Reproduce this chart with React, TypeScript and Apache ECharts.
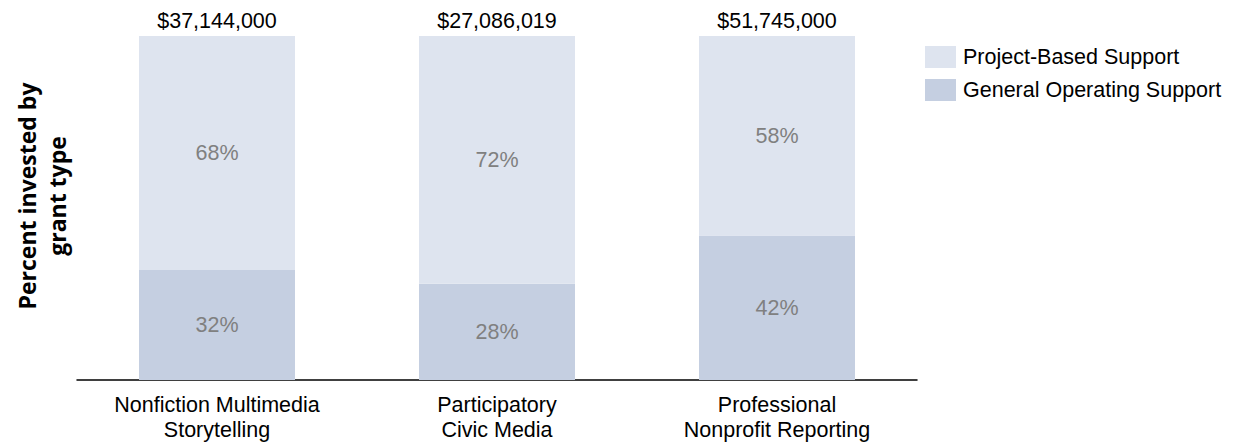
import React, { useEffect, useRef } from "react";
import * as echarts from "echarts";

const categories = ["Nonfiction Multimedia\nStorytelling", "Participatory\nCivic Media", "Professional\nNonprofit Reporting"];
const generalOperating = [32, 28, 42];
const projectBased = [68, 72, 58];
const totals = ["$37,144,000", "$27,086,019", "$51,745,000"];

const FONT = "Liberation Sans, Arial, sans-serif";

export default function App() {
  const ref = useRef<HTMLDivElement>(null);
  useEffect(() => {
    const chart = echarts.init(ref.current!, null, { renderer: "svg" });
    chart.setOption({
      animation: false,
      grid: { left: 77, right: 317, top: 36, bottom: 63 },
      legend: {
        left: 925,
        top: 46,
        padding: 0,
        orient: "vertical",
        itemWidth: 31,
        itemHeight: 22,
        itemGap: 11,
        icon: "rect",
        data: ["Project-Based Support", "General Operating Support"],
        textStyle: { fontFamily: FONT, fontSize: 21.5, color: "#000", padding: [0, 0, 0, 2] },
      },
      xAxis: {
        type: "category",
        data: categories,
        axisTick: { show: false },
        axisLine: { lineStyle: { color: "#000", width: 1.5 } },
        axisLabel: { fontFamily: FONT, fontSize: 21.5, color: "#000", lineHeight: 25, margin: 12 },
      },
      yAxis: { type: "value", min: 0, max: 100, show: false },
      graphic: [
        {
          type: "text",
          x: 42,
          y: 196,
          rotation: Math.PI / 2,
          style: {
            text: "Percent invested by\ngrant type",
            font: "bold 23px 'Open Sans', 'Noto Sans', sans-serif",
            fill: "#000",
            align: "center",
            verticalAlign: "middle",
            lineHeight: 30,
          },
        },
      ],
      series: [
        {
          name: "General Operating Support",
          type: "bar",
          stack: "a",
          barWidth: 156,
          data: generalOperating,
          itemStyle: { color: "#c5cfe1" },
          label: {
            show: true,
            position: "inside",
            formatter: "{c}%",
            fontFamily: FONT,
            fontSize: 21.5,
            color: "#808080",
          },
        },
        {
          name: "Project-Based Support",
          type: "bar",
          stack: "a",
          barWidth: 156,
          data: projectBased,
          itemStyle: { color: "#dee4ef" },
          label: {
            show: true,
            position: "inside",
            formatter: "{c}%",
            fontFamily: FONT,
            fontSize: 21.5,
            color: "#808080",
          },
        },
        {
          name: "totals",
          type: "bar",
          stack: "a",
          barWidth: 156,
          data: totals.map(() => 0),
          itemStyle: { color: "transparent" },
          label: {
            show: true,
            position: "top",
            distance: 4,
            formatter: (p: any) => totals[p.dataIndex],
            fontFamily: FONT,
            fontSize: 21.5,
            color: "#000",
          },
        },
      ],
    });
    return () => chart.dispose();
  }, []);
  return <div ref={ref} style={{ width: 1234, height: 443, position: "absolute", left: 0, top: 0, background: "#fff" }} />;
}
